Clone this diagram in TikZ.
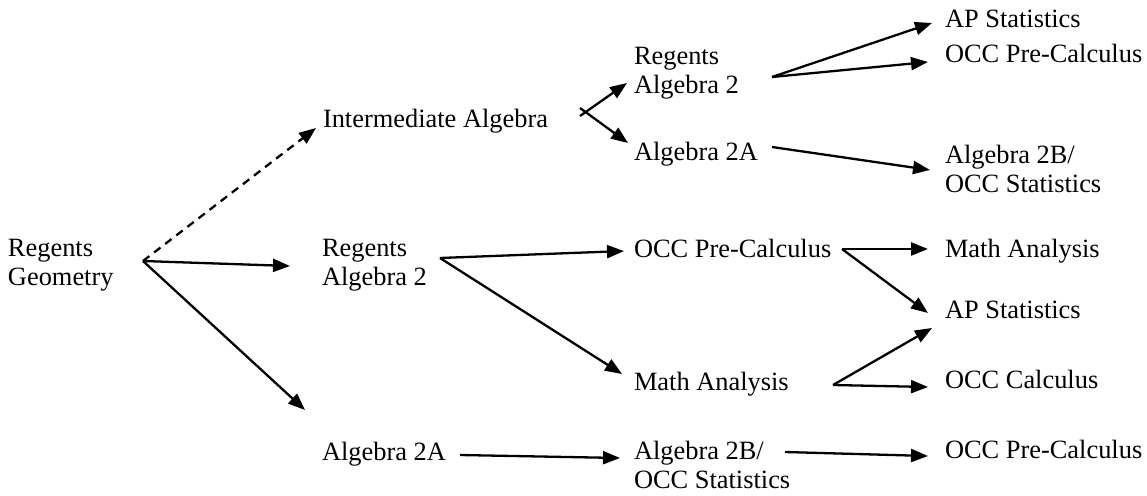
\documentclass[tikz,border=0pt]{standalone}
\usepackage{fontspec}
\setmainfont{Liberation Serif}
\usetikzlibrary{arrows.meta}
\begin{document}
\begin{tikzpicture}[x=1pt,y=-1pt,
  lbl/.style={anchor=base west,inner sep=0pt,outer sep=0pt,align=left,
    font=\fontsize{26.4}{29}\selectfont},
  conn/.style={line width=2.3pt,-{Triangle[length=17pt,width=13pt]}},
  dashconn/.style={conn,dash pattern=on 8pt off 6pt}]
\useasboundingbox (0,0) rectangle (1147,495);
% column 1 (two-line nodes are placed at the baseline of their last line)
\node[lbl] (rg) at (8,285) {Regents\\Geometry};
% column 2
\node[lbl] (ia) at (323,127) {Intermediate Algebra};
\node[lbl] (ra2m) at (322,285) {Regents\\Algebra 2};
\node[lbl] (a2ab) at (322,460) {Algebra 2A};
% column 3
\node[lbl] (ra2t) at (634,93) {Regents\\Algebra 2};
\node[lbl] (a2at) at (634,160) {Algebra 2A};
\node[lbl] (opcm) at (634,257) {OCC Pre-Calculus};
\node[lbl] (mam) at (634,390) {Math Analysis};
\node[lbl] (a2bb) at (634,488) {Algebra 2B/\\OCC Statistics};
% column 4
\node[lbl] (apst) at (945,28) {AP Statistics};
\node[lbl] (opct) at (945,63) {OCC Pre-Calculus};
\node[lbl] (a2bt) at (945,192) {Algebra 2B/\\OCC Statistics};
\node[lbl] (mar) at (945,257) {Math Analysis};
\node[lbl] (apsr) at (945,318) {AP Statistics};
\node[lbl] (occc) at (945,388) {OCC Calculus};
\node[lbl] (opcb) at (945,458) {OCC Pre-Calculus};
% connector start points
\coordinate (hrg) at (143,261);
\coordinate (hia1) at (580,116);
\coordinate (hia2) at (580,108);
\coordinate (hra2t) at (772,77);
\coordinate (ha2at) at (772,147);
\coordinate (hra2m) at (440,258);
\coordinate (hopcm) at (842,249);
\coordinate (hmam) at (833,385);
\coordinate (ha2ab) at (460,455);
\coordinate (ha2bb) at (785,452);
% connectors
\draw[dashconn] (hrg) -- ([shift={(-7,1)}]ia.base west);
\draw[conn] (hrg) -- ([shift={(-32,-19)}]ra2m.base west);
\draw[conn] (hrg) -- ([shift={(-17,-50)}]a2ab.base west);
\draw[conn] (hia1) -- ([shift={(-7,-10)}]ra2t.base west);
\draw[conn] (hia2) -- ([shift={(-6,-17)}]a2at.base west);
\draw[conn] (hra2t) -- ([shift={(-13,-5)}]apst.base west);
\draw[conn] (hra2t) -- ([shift={(-17,-1)}]opct.base west);
\draw[conn] (ha2at) -- ([shift={(-15,-22)}]a2bt.base west);
\draw[conn] (hra2m) -- ([shift={(-10,-6)}]opcm.base west);
\draw[conn] (hra2m) -- ([shift={(-12,-16)}]mam.base west);
\draw[conn] (hopcm) -- ([shift={(-17,-8)}]mar.base west);
\draw[conn] (hopcm) -- ([shift={(-17,-5)}]apsr.base west);
\draw[conn] (hmam) -- ([shift={(-13,10)}]apsr.base west);
\draw[conn] (hmam) -- ([shift={(-17,-1)}]occc.base west);
\draw[conn] (ha2ab) -- ([shift={(-14,-30)}]a2bb.base west);
\draw[conn] (ha2bb) -- ([shift={(-17,-2)}]opcb.base west);
\end{tikzpicture}
\end{document}
